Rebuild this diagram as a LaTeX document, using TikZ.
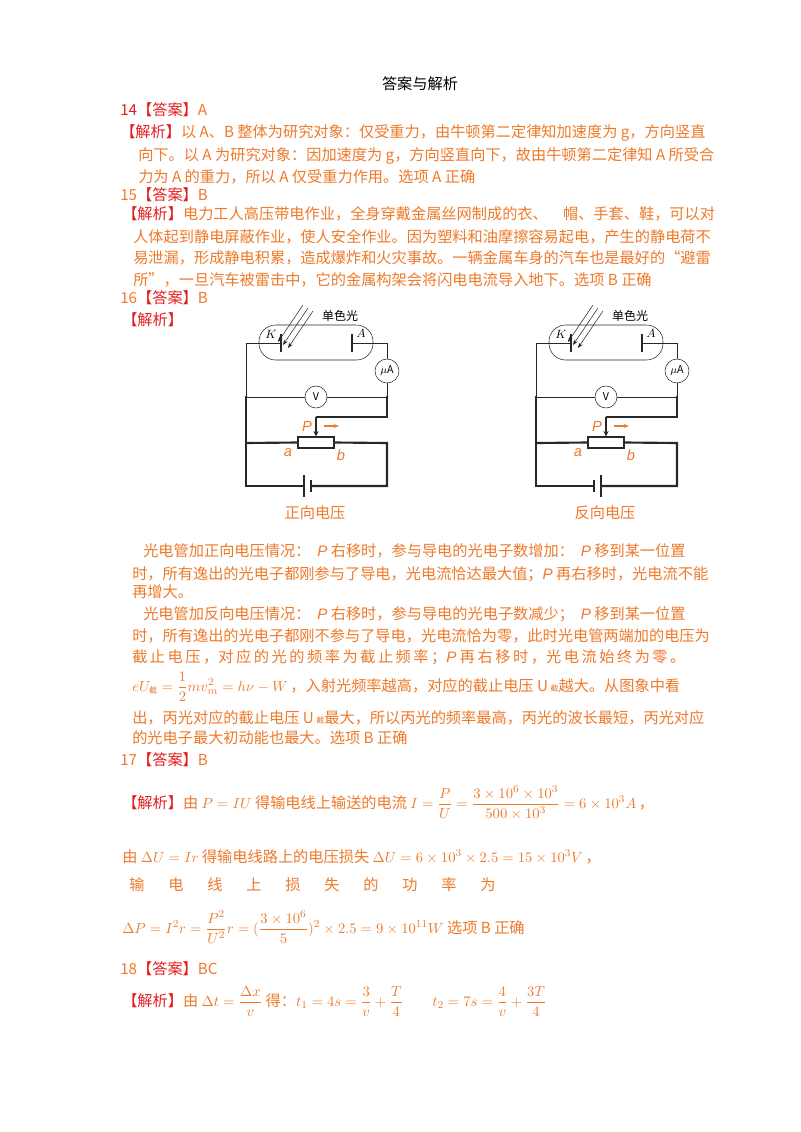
\documentclass[tikz,border=0pt]{standalone}
\usepackage{amsmath}
\usepackage{fontspec}
\newfontfamily\cjk{Noto Sans CJK SC}
\newfontfamily\lsans{Liberation Sans}
\setmainfont{Noto Sans CJK SC}
\usetikzlibrary{arrows.meta}
\definecolor{orng}{RGB}{238,122,42}
\definecolor{rd}{RGB}{228,30,30}
\definecolor{wire}{RGB}{40,40,40}
\newcommand\R[1]{\textcolor{rd}{#1}}
\newcommand\PP{{\lsans\itshape P}}
\newcommand\jz{\mbox{\fontsize{6}{6}\selectfont 截}}
\newcommand\pecircuit[4]{%
\begin{scope}[shift={(#1,0)}]
\draw[thin,wire,rounded corners=12.5pt] (259,325) rectangle (373,360);
\draw[wire,thin] (246,397) -- (246,343) -- (281,343);
\draw[wire,line width=1.2pt] (281,334) -- (281,352);
\draw[wire,line width=1.2pt] (352,334) -- (352,352);
\node[anchor=center,inner sep=0,font=\fontsize{9}{9}\selectfont] (K#2) at (271,334) {$K$};
\node[anchor=center,inner sep=0,font=\fontsize{9}{9}\selectfont] (A#2) at (361,333) {$A$};
\node[inner sep=0,font=\fontsize{9}{9}\selectfont] (L#2) at (340,316) {单色光};
\foreach \i in {0,1,2}{\draw[wire,thin,-{Stealth[length=4pt,width=3pt]}] ({303+5*\i},{305+3*\i}) -- ({278+5*\i},{342+3*\i});}
\node[circle,draw=wire,thin,minimum size=18pt,inner sep=0,font=\fontsize{8}{8}\selectfont] (uA#2) at (387,371) {$\mu$A};
\node[circle,draw=wire,thin,minimum size=16.5pt,inner sep=0,font=\fontsize{8}{8}\selectfont,fill=white] (V#2) at (316,397) {V};
\coordinate (J1#2) at (246,397); \coordinate (J2#2) at (387,397);
\draw[wire,thin] (352,343) -- (387,343) -- (uA#2.north);
\draw[wire,thin] (uA#2.south) -- (J2#2);
\draw[wire,thin] (J1#2) -- (V#2) -- (J2#2);
\fill[wire] (J1#2) circle (1pt) (J2#2) circle (1pt);
\node[draw=wire,line width=1.2pt,minimum width=27pt,minimum height=8pt,inner sep=0] (Rh#2) at (316,442.5) {};
\draw[wire,line width=1.2pt] (J2#2) -- (387,417) -- (316,417);
\draw[wire,line width=1.2pt,-{Stealth[length=4pt,width=4pt]}] (316,416.5) -- (Rh#2.north);
\draw[wire,line width=1.6pt] (J1#2) -- (246,486) -- (#3,486);
\draw[wire,line width=1.6pt] (246,443) -- (Rh#2.west);
\draw[wire,line width=1.6pt] (Rh#2.east) -- (387,443) -- (387,486) -- (#4,486);
\coordinate (B1#2) at (#3,486); \coordinate (B2#2) at (#4,486);
\end{scope}}
\begin{document}
\begin{tikzpicture}[x=0.75pt,y=-0.75pt,
 t/.style={anchor=base west,inner sep=0,font=\fontsize{11.4}{13}\selectfont,text=orng},
 lab/.style={inner sep=0,font=\lsans\itshape\fontsize{11}{11}\selectfont,text=orng}]
\fill[white] (0,0) rectangle (800,1132);
\useasboundingbox (0,0) rectangle (800,1132);
\node[t,anchor=base,text=black] (title) at (420,89) {答案与解析};
\node[t] (a1) at (120,115) {\R{14【答案】}A};
\node[t] (a2) at (120,137) {\R{【解析】}以 A、B 整体为研究对象：仅受重力，由牛顿第二定律知加速度为 g，方向竖直};
\node[t] (a3) at (138,160) {向下。以 A 为研究对象：因加速度为 g，方向竖直向下，故由牛顿第二定律知 A 所受合};
\node[t] (a4) at (138,182) {力为 A 的重力，所以 A 仅受重力作用。选项 A 正确};
\node[t] (b1) at (120,200) {15\R{【答案】}B};
\node[t] (b2) at (122,219) {\R{【解析】}电力工人高压带电作业，全身穿戴金属丝网制成的衣、\quad 帽、手套、鞋，可以对};
\node[t] (b3) at (133,242) {人体起到静电屏蔽作业，使人安全作业。因为塑料和油摩擦容易起电，产生的静电荷不};
\node[t] (b4) at (133,263) {易泄漏，形成静电积累，造成爆炸和火灾事故。一辆金属车身的汽车也是最好的“避雷};
\node[t] (b5) at (133,285) {所”，一旦汽车被雷击中，它的金属构架会将闪电电流导入地下。选项 B 正确};
\node[t] (c1) at (120,303) {16\R{【答案】}B};
\node[t] (c2) at (122,325) {\R{【解析】}};
% circuits
\pecircuit{0}{f}{304}{311}
\pecircuit{290}{r}{304}{311}
\draw[wire,line width=0.8pt] (304,475) -- (304,497); \draw[wire,line width=1.8pt] (311,480) -- (311,492);
\draw[wire,line width=1.8pt] (594,480) -- (594,492); \draw[wire,line width=0.8pt] (601,475) -- (601,497);
\foreach \d/\s in {0/f,290/r}{
 \node[lab] (P\s) at ({307+\d},426) {P};
 \draw[orng,thick,-{Stealth[length=4pt,width=3pt]}] ({324+\d},426) -- ({339+\d},426);
 \node[lab] (a\s) at ({288+\d},453) {a};
 \node[lab] (b\s) at ({341+\d},455) {b};
}
\node[t,anchor=base] (lf) at (315,518) {正向电压};
\node[t,anchor=base] (lr) at (605,518) {反向电压};
% paragraph
\node[t] (d1) at (143,556) {光电管加正向电压情况：\ \ \PP\ 右移时，参与导电的光电子数增加：\ \ \PP\ 移到某一位置};
\node[t] (d2) at (132,579) {时，所有逸出的光电子都刚参与了导电，光电流恰达最大值；\PP\ 再右移时，光电流不能};
\node[t] (d3) at (132,597) {再增大。};
\node[t] (d4) at (143,619) {光电管加反向电压情况：\ \ \PP\ 右移时，参与导电的光电子数减少；\ \ \PP\ 移到某一位置};
\node[t] (d5) at (132,641) {时，所有逸出的光电子都刚不参与了导电，光电流恰为零，此时光电管两端加的电压为};
\node[t] (d6) at (132,662) {截\,止\,电\,压\,，对\,应\,的\,光\,的\,频\,率\,为\,截\,止\,频\,率\,；\PP\ 再\,右\,移\,时\,，光\,电\,流\,始\,终\,为\,零\,。};
\node[t] (d7) at (132,691) {$eU_{\jz}=\dfrac{1}{2}mv_m^2=h\nu-W$\,，入射光频率越高，对应的截止电压 U\,{\fontsize{6}{6}\selectfont 截}越大。从图象中看};
\node[t] (d8) at (132,723) {出，丙光对应的截止电压 U\,{\fontsize{6}{6}\selectfont 截}最大，所以丙光的频率最高，丙光的波长最短，丙光对应};
\node[t] (d9) at (132,743) {的光电子最大初动能也最大。选项 B 正确};
\node[t] (e1) at (120,765) {17\R{【答案】}B};
\node[t] (e2) at (122,808) {\R{【解析】}由 $P=IU$ 得输电线上输送的电流 $I=\dfrac{P}{U}=\dfrac{3\times10^6\times10^3}{500\times10^3}=6\times10^3A$\,，};
\node[t] (e3) at (122,862) {由 $\Delta U=Ir$ 得输电线路上的电压损失 $\Delta U=6\times10^3\times2.5=15\times10^3V$\,，};
\foreach \c [count=\i from 0] in {输,电,线,上,损,失,的,功,率,为}{
 \node[t] (s\i) at ({129+39*\i},890) {\c};}
\node[t] (e5) at (122,933) {$\Delta P=I^2r=\dfrac{P^2}{U^2}r=(\dfrac{3\times10^6}{5})^2\times2.5=9\times10^{11}W$ 选项 B 正确};
\node[t] (f1) at (120,974) {18\R{【答案】}BC};
\node[t] (f2) at (122,1006) {\R{【解析】}由 $\Delta t=\dfrac{\Delta x}{v}$ 得：$t_1=4s=\dfrac{3}{v}+\dfrac{T}{4}$};
\node[t] (f3) at (432,1006) {$t_2=7s=\dfrac{4}{v}+\dfrac{3T}{4}$};
\end{tikzpicture}
\end{document}
